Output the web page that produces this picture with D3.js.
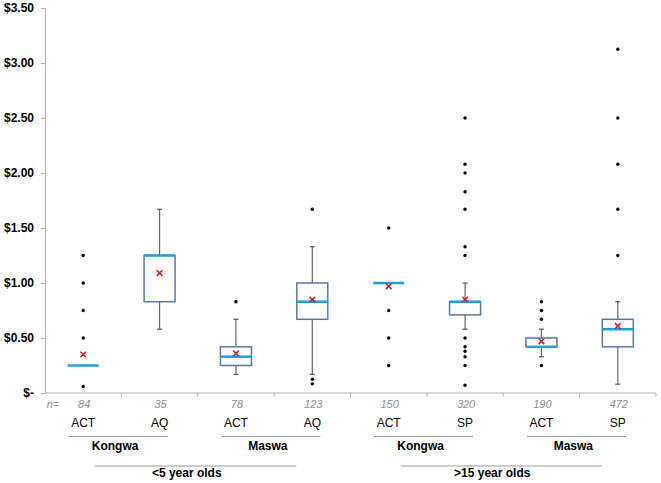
<!DOCTYPE html>
<html><head><meta charset="utf-8">
<script src="https://cdn.jsdelivr.net/npm/d3@7"></script>
<style>body{margin:0;background:#fff;}svg{display:block;font-family:"Liberation Sans",Arial,sans-serif;}</style>
</head><body><svg id="c" width="661" height="483"></svg>
<script>
const categories = ["ACT","AQ","ACT","AQ","ACT","SP","ACT","SP"];
const nValues = [84,35,78,123,150,320,190,472];
const q1 = [0.25,0.83,0.25,0.67,1.00,0.71,0.42,0.42];
const median = [0.25,1.25,0.33,0.83,1.00,0.83,0.42,0.58];
const q3 = [0.25,1.25,0.42,1.00,1.00,0.83,0.50,0.67];
const whiskerLow = [0.25,0.58,0.17,0.17,1.00,0.58,0.33,0.08];
const whiskerHigh = [0.25,1.67,0.67,1.33,1.00,1.00,0.58,0.83];
const means = [0.35,1.09,0.36,0.85,0.97,0.85,0.47,0.61];
const outliers = [
  [1.25,1.00,0.75,0.50,0.06],
  [],
  [0.83],
  [1.67,0.125,0.083],
  [1.50,0.75,0.50,0.25],
  [2.50,2.08,2.00,1.83,1.67,1.33,1.25,0.50,0.42,0.38,0.33,0.25,0.07],
  [0.83,0.75,0.67,0.25],
  [3.125,2.50,2.08,1.67,1.25]
];
const yTicks = [0,0.5,1,1.5,2,2.5,3,3.5];
const yTickLabels = ["$-","$0.50","$1.00","$1.50","$2.00","$2.50","$3.00","$3.50"];
const districts = [{name:"Kongwa",from:0,to:1},{name:"Maswa",from:2,to:3},{name:"Kongwa",from:4,to:5},{name:"Maswa",from:6,to:7}];
const ageGroups = [{name:"<5 year olds",from:0,to:3},{name:">15 year olds",from:4,to:7}];

const svg = d3.select("#c");
const x = d3.scaleBand().domain(d3.range(categories.length)).range([45,656]);
const y = d3.scaleLinear().domain([0,3.5]).range([393,8]);
const cx = i => x(i) + x.bandwidth()/2;
const bw = 31;

// axes
const yAxis = d3.axisLeft(y).tickValues(yTicks).tickSize(4).tickFormat((d,i)=>yTickLabels[i]);
const gy = svg.append("g").attr("transform","translate(45,0)").call(yAxis);
gy.select(".domain").attr("stroke","#b3b3b3");
gy.selectAll(".tick line").attr("stroke","#b3b3b3");
gy.selectAll(".tick text").attr("x",-11).attr("font-size","12px").attr("font-weight","bold").attr("fill","#000").attr("font-family","Liberation Sans, Arial, sans-serif");

const xAxis = d3.axisBottom(x).tickSize(0).tickFormat("");
const gx = svg.append("g").attr("transform","translate(0,393)").call(xAxis);
gx.select(".domain").attr("stroke","#b3b3b3").attr("d","M45,0H656");
// category boundary ticks
const bounds = d3.range(categories.length+1).map(i => 45 + i*x.step());
gx.selectAll("line.bt").data(bounds.slice(1)).join("line").attr("class","bt")
  .attr("x1",d=>d).attr("x2",d=>d).attr("y1",0).attr("y2",4).attr("stroke","#b3b3b3");

const g = svg.append("g");
// whiskers
categories.forEach((c,i)=>{
  const X = cx(i);
  if (whiskerHigh[i] > q3[i]) {
    g.append("line").attr("x1",X).attr("x2",X).attr("y1",y(q3[i])).attr("y2",y(whiskerHigh[i])).attr("stroke","#666").attr("stroke-width",1.2);
    g.append("line").attr("x1",X-2.5).attr("x2",X+2.5).attr("y1",y(whiskerHigh[i])).attr("y2",y(whiskerHigh[i])).attr("stroke","#555").attr("stroke-width",1.2);
  }
  if (whiskerLow[i] < q1[i]) {
    g.append("line").attr("x1",X).attr("x2",X).attr("y1",y(q1[i])).attr("y2",y(whiskerLow[i])).attr("stroke","#666").attr("stroke-width",1.2);
    g.append("line").attr("x1",X-2.5).attr("x2",X+2.5).attr("y1",y(whiskerLow[i])).attr("y2",y(whiskerLow[i])).attr("stroke","#555").attr("stroke-width",1.2);
  }
  if (q3[i] > q1[i]) {
    g.append("rect").attr("x",X-bw/2).attr("width",bw).attr("y",y(q3[i])).attr("height",y(q1[i])-y(q3[i]))
      .attr("fill","#fff").attr("stroke","#5577a8").attr("stroke-width",1.5);
  }
  g.append("line").attr("x1",X-bw/2).attr("x2",X+bw/2).attr("y1",y(median[i])).attr("y2",y(median[i]))
    .attr("stroke","#1f9fdc").attr("stroke-width",2.5);
  outliers[i].forEach(v=>{
    g.append("circle").attr("cx",X).attr("cy",y(v)).attr("r",1.7).attr("fill","#000");
  });
  const m = y(means[i]), s = 2.8;
  g.append("path").attr("d",`M${X-s},${m-s}L${X+s},${m+s}M${X-s},${m+s}L${X+s},${m-s}`)
    .attr("stroke","#c8202a").attr("stroke-width",1.6);
});

// labels under axis
svg.append("text").attr("x",53).attr("y",408).text("n=").attr("font-size","11px").attr("font-style","italic").attr("fill","#8c8c8c").attr("text-anchor","middle");
svg.selectAll("text.n").data(nValues).join("text").attr("class","n")
  .attr("x",(d,i)=>cx(i)+1).attr("y",408).attr("text-anchor","middle").attr("font-size","11px")
  .attr("font-style","italic").attr("fill","#8c8c8c").text(d=>d);
svg.selectAll("text.cat").data(categories).join("text").attr("class","cat")
  .attr("x",(d,i)=>cx(i)).attr("y",427).attr("text-anchor","middle").attr("font-size","12px").attr("fill","#000").text(d=>d);

districts.forEach(d=>{
  const x1 = cx(d.from)-14.5, x2 = cx(d.to)+8;
  svg.append("line").attr("x1",x1).attr("x2",x2).attr("y1",436.5).attr("y2",436.5).attr("stroke","#999").attr("stroke-width",1);
  svg.append("text").attr("x",(x1+x2)/2-3).attr("y",450).attr("text-anchor","middle").attr("font-size","12px").attr("font-weight","bold").text(d.name);
});
ageGroups.forEach(a=>{
  const x1 = cx(a.from)+12, x2 = cx(a.to)-16;
  svg.append("line").attr("x1",x1).attr("x2",x2).attr("y1",466).attr("y2",466).attr("stroke","#999").attr("stroke-width",1);
  svg.append("text").attr("x",(x1+x2)/2-9).attr("y",477).attr("text-anchor","middle").attr("font-size","12px").attr("font-weight","bold").text(a.name);
});
</script></body></html>
